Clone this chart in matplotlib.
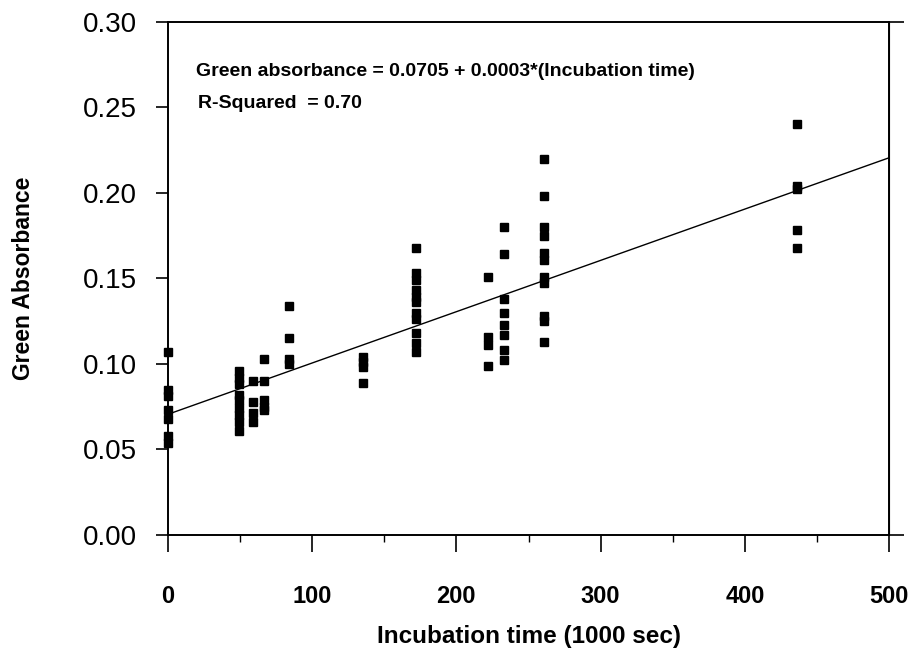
import numpy as np
import matplotlib
matplotlib.use("Agg")
import matplotlib.pyplot as plt

plt.rcParams['font.family'] = ['Liberation Sans', 'DejaVu Sans']

# incubation time groups (1000 sec) and the absorbance readings in each group
t0 = [0, 0, 0, 0, 0, 0, 0]
a0 = [0.107, 0.085, 0.081, 0.073, 0.068, 0.058, 0.054]

t50 = [49] * 9
a50 = [0.096, 0.092, 0.088, 0.082, 0.079, 0.074, 0.070, 0.066, 0.061]

t60 = [59] * 4
a60 = [0.090, 0.078, 0.071, 0.066]

t67 = [67] * 5
a67 = [0.103, 0.090, 0.079, 0.075, 0.073]

t84 = [84] * 4
a84 = [0.134, 0.115, 0.103, 0.100]

t135 = [135] * 4
a135 = [0.104, 0.101, 0.098, 0.089]

t172 = [172] * 11
a172 = [0.168, 0.153, 0.149, 0.143, 0.139, 0.136, 0.130, 0.126, 0.118, 0.112, 0.107]

t222 = [222] * 4
a222 = [0.151, 0.116, 0.111, 0.099]

t233 = [233] * 8
a233 = [0.180, 0.164, 0.138, 0.130, 0.123, 0.117, 0.108, 0.102]

t261 = [261] * 11
a261 = [0.220, 0.198, 0.180, 0.175, 0.165, 0.161, 0.151, 0.147, 0.128, 0.125, 0.113]

t436 = [436] * 5
a436 = [0.240, 0.204, 0.202, 0.178, 0.168]

times = t0 + t50 + t60 + t67 + t84 + t135 + t172 + t222 + t233 + t261 + t436
absorb = a0 + a50 + a60 + a67 + a84 + a135 + a172 + a222 + a233 + a261 + a436

intercept = 0.0705
slope = 0.0003
r_squared = 0.70

fig = plt.figure(figsize=(9.12, 6.58), dpi=100)
ax = fig.add_axes([0.184, 0.187, 0.791, 0.780])

ax.plot(times, absorb, 's', color='black', markersize=5.5, clip_on=False, zorder=3)

# fitted line
xfit = np.array([0, 500])
ax.plot(xfit, intercept + slope * xfit, color='black', lw=1.0)

ax.set_xlim(0, 500)
ax.set_ylim(0, 0.30)
ax.set_xticks(np.arange(0, 501, 100))
ax.set_xticks(np.arange(50, 500, 100), minor=True)
ax.set_yticks(np.arange(0, 0.301, 0.05))
ax.set_yticklabels(['0.00', '0.05', '0.10', '0.15', '0.20', '0.25', '0.30'])

ax.tick_params(axis='y', direction='out', length=9, width=1.2, pad=13, labelsize=20)
ax.tick_params(axis='x', which='major', direction='out', length=12, width=1.2, pad=24, labelsize=17)
ax.tick_params(axis='x', which='minor', direction='out', length=5, width=1.0)
for lab in ax.get_xticklabels():
    lab.set_fontweight('bold')

for sp in ax.spines.values():
    sp.set_linewidth(1.4)

# right side ticks at the ends only (frame overhang)
sec = ax.secondary_yaxis('right')
sec.set_yticks([0, 0.30])
sec.set_yticklabels([])
sec.tick_params(direction='out', length=11, width=1.2)

ax.set_xlabel('Incubation time (1000 sec)', fontsize=17.5, fontweight='bold', labelpad=12)
ax.set_ylabel('Green Absorbance', fontsize=16.5, fontweight='bold', labelpad=35)

ax.text(0.039, 0.903, 'Green absorbance = 0.0705 + 0.0003*(Incubation time)',
        transform=ax.transAxes, fontsize=14, fontweight='bold', va='center')
ax.text(0.042, 0.840, 'R-Squared  = %.2f' % r_squared,
        transform=ax.transAxes, fontsize=14, fontweight='bold', va='center')

fig.savefig('out.png', dpi=100)
